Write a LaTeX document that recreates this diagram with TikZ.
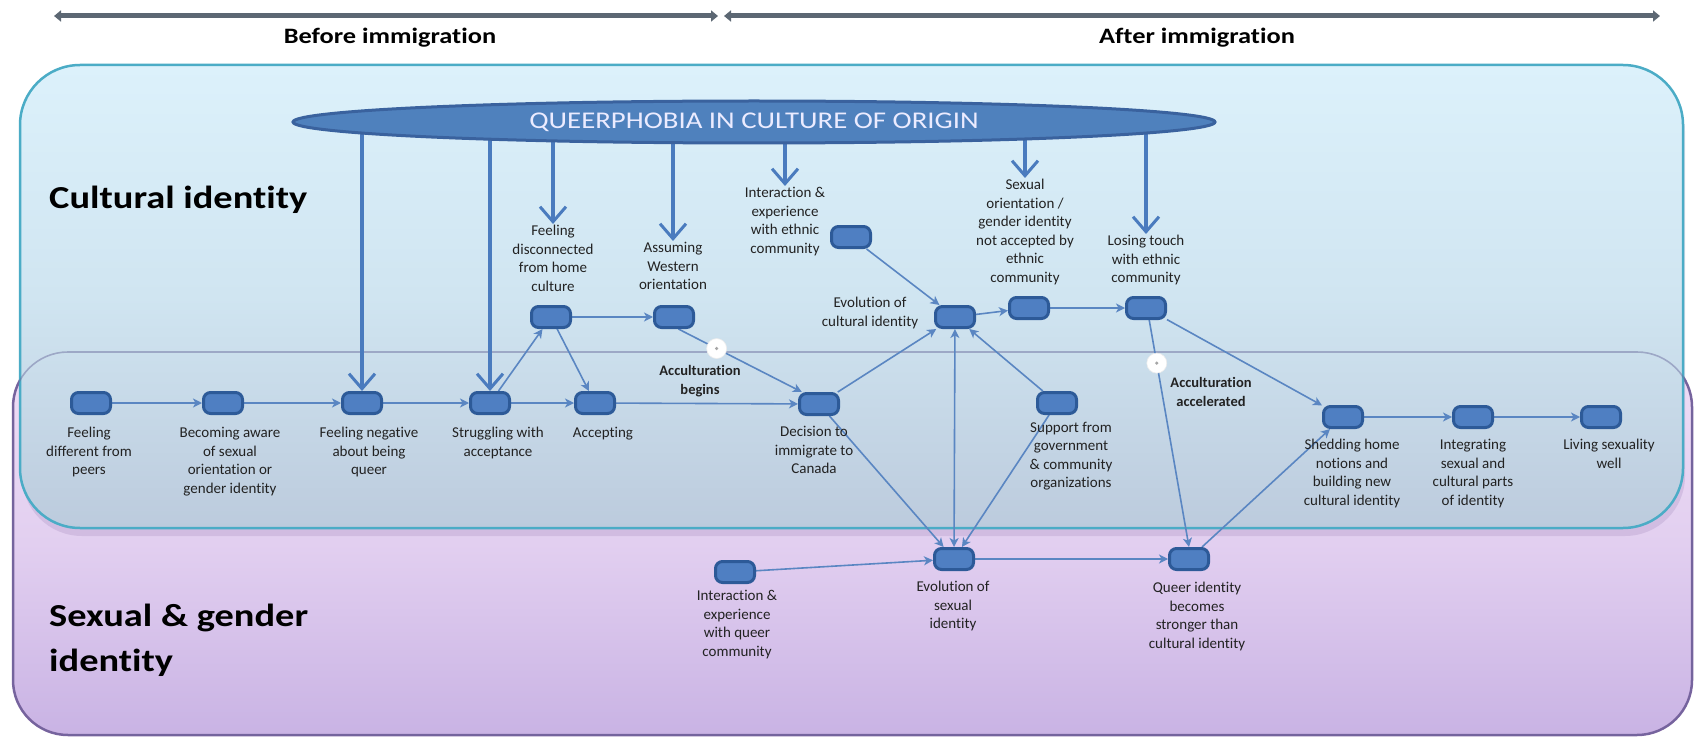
\documentclass[tikz,border=0pt]{standalone}
\usepackage{fontspec}
\setmainfont{Carlito}[Ligatures={NoCommon}]
\newfontfamily\widefont{Carlito}[FakeStretch=1.2,Ligatures={NoCommon}]
\usetikzlibrary{arrows.meta,shapes.geometric}
\pgfdeclarelayer{bg}
\pgfdeclarelayer{mid}
\pgfsetlayers{bg,mid,main}
\definecolor{nodefill}{HTML}{4F7FC2}
\definecolor{nodeedge}{HTML}{2D5A98}
\definecolor{conn}{HTML}{5A86C2}
\definecolor{pressc}{HTML}{4A7BBE}
\definecolor{cyanedge}{HTML}{4BACC6}
\definecolor{purpedge}{HTML}{8064A2}
\definecolor{timec}{HTML}{5C6773}
\definecolor{cyantop}{HTML}{DCF1FB}
\definecolor{cyanmid}{HTML}{D0E5F1}
\definecolor{cyanbot}{HTML}{BCCBDD}
\definecolor{purptop}{HTML}{F0DEF6}
\definecolor{purpmid}{HTML}{E2CFF0}
\definecolor{purpbot}{HTML}{C9B3E4}
\definecolor{ellfill}{HTML}{4F81BD}
\definecolor{elledge}{HTML}{3A629E}
\definecolor{txt}{HTML}{222222}
\begin{document}
\begin{tikzpicture}[x=1pt,y=-1pt,
  stepbox/.style={rectangle, rounded corners=7pt, fill=nodefill, draw=nodeedge,
    line width=3pt, minimum width=39pt, minimum height=21pt, inner sep=0pt},
  lbl/.style={font=\fontsize{15}{18.5}\selectfont, align=center, inner sep=1pt, text=txt, anchor=north},
  flow/.style={draw=conn, line width=1.6pt, -{Stealth[length=9pt,width=9pt,inset=2.5pt]}},
  biflow/.style={draw=conn, line width=1.6pt, {Stealth[length=9pt,width=9pt,inset=2.5pt]}-{Stealth[length=9pt,width=9pt,inset=2.5pt]}},
  press/.style={draw=pressc, line width=3.5pt, -{Straight Barb[length=15pt,width=26pt,line width=3pt]}},
  accnode/.style={circle, fill=white, draw=white!85!gray, line width=0.6pt, minimum size=20pt, inner sep=0pt,
    path picture={\fill[gray!70] (path picture bounding box.center) circle[radius=1.8pt];}},
  acclbl/.style={font=\bfseries\fontsize{14.5}{19}\selectfont, align=center, inner sep=0pt, text=txt},
  timeline/.style={draw=timec, line width=5pt, {Triangle[length=7pt,width=11pt]}-{Triangle[length=7pt,width=11pt]}},
  headtxt/.style={font=\widefont\bfseries\fontsize{22}{22}\selectfont, inner sep=0pt, text=black},
  sectxt/.style={font=\widefont\bfseries\fontsize{32}{45}\selectfont, align=left, inner sep=0pt, text=black, anchor=west}
]
\useasboundingbox (0,0) rectangle (1699,738);

% ---------- background boxes ----------
\begin{pgfonlayer}{bg}
\fill[white] (0,0) rectangle (1699,738);
\path[draw=purpedge, line width=2.5pt, top color=purptop, bottom color=purpbot, middle color=purpmid,
      rounded corners=55pt] (13,352) rectangle (1692,735);
\fill[purpedge, opacity=0.18, rounded corners=60pt] (22,72) rectangle (1685,536);
\path[draw=cyanedge, line width=2.5pt, top color=cyantop, bottom color=cyanbot, middle color=cyanmid,
      rounded corners=60pt] (20,65) rectangle (1683,528);
\draw[draw=gray!80!blue, draw opacity=0.45, line width=1.6pt, rounded corners=55pt] (13,352) rectangle (1692,735);
\end{pgfonlayer}

% ---------- timeline ----------
\coordinate (tl1) at (54,16);
\coordinate (tl2) at (718,16);
\coordinate (tr1) at (724,16);
\coordinate (tr2) at (1660,16);
\draw[timeline] (tl1) -- (tl2);
\draw[timeline] (tr1) -- (tr2);
\node[headtxt] (hb) at (390,38) {Before immigration};
\node[headtxt] (ha) at (1197,38) {After immigration};

% ---------- section titles ----------
\node[sectxt] (cult) at (49,200) {Cultural identity};
\node[sectxt] (sexg) at (49,640) {Sexual \& gender\\identity};

% ---------- ellipse ----------
\node[ellipse, fill=ellfill, draw=elledge, line width=3pt, minimum width=922pt, minimum height=42pt,
      inner sep=0pt, text=white!92!blue, font=\widefont\fontsize{24}{24}\selectfont] (q) at (754,122)
      {\raisebox{-2pt}{QUEERPHOBIA IN CULTURE OF ORIGIN}};

% ---------- step nodes ----------
\node[stepbox] (n1) at (91,403) {};
\node[stepbox] (n2) at (223,403) {};
\node[stepbox] (n3) at (362,403) {};
\node[stepbox] (n4) at (490,403) {};
\node[stepbox] (n5) at (595,403) {};
\node[stepbox] (n6) at (551,317) {};
\node[stepbox] (n7) at (674,317) {};
\node[stepbox] (n8) at (819,404) {};
\node[stepbox] (n9) at (851,237) {};
\node[stepbox] (n10) at (955,317) {};
\node[stepbox] (n11) at (1029,308) {};
\node[stepbox] (n12) at (1146,308) {};
\node[stepbox] (n13) at (1057,403) {};
\node[stepbox] (n14) at (1343,417) {};
\node[stepbox] (n15) at (1473,417) {};
\node[stepbox] (n16) at (1601,417) {};
\node[stepbox] (n17) at (735,572) {};
\node[stepbox] (n18) at (954,559) {};
\node[stepbox] (n19) at (1189,559) {};

% ---------- labels ----------
\node[lbl] (l1) at (89,426) {Feeling\\different from\\peers};
\node[lbl] (l2) at (230,426) {Becoming aware\\of sexual\\orientation or\\gender identity};
\node[lbl] (l3) at (369,426) {Feeling negative\\about being\\queer};
\node[lbl] (l4) at (498,426) {Struggling with\\acceptance};
\node[lbl] (l5) at (603,426) {Accepting};
\node[lbl] (l6) at (553,224) {Feeling\\disconnected\\from home\\culture};
\node[lbl] (l7) at (673,241) {Assuming\\Western\\orientation};
\node[lbl] (l8) at (814,425) {Decision to\\immigrate to\\Canada};
\node[lbl] (l9) at (785,186) {Interaction \&\\experience\\with ethnic\\community};
\node[lbl] (l10) at (870,296) {Evolution of\\cultural identity};
\node[lbl] (l11) at (1025,178) {Sexual\\orientation /\\gender identity\\not accepted by\\ethnic\\community};
\node[lbl] (l12) at (1146,234) {Losing touch\\with ethnic\\community};
\node[lbl] (l13) at (1071,421) {Support from\\government\\\& community\\organizations};
\node[lbl] (l14) at (1352,438) {Shedding home\\notions and\\building new\\cultural identity};
\node[lbl] (l15) at (1473,438) {Integrating\\sexual and\\cultural parts\\of identity};
\node[lbl] (l16) at (1609,438) {Living sexuality\\well};
\node[lbl] (l17) at (737,589) {Interaction \&\\experience\\with queer\\community};
\node[lbl] (l18) at (953,580) {Evolution of\\sexual\\identity};
\node[lbl] (l19) at (1197,581) {Queer identity\\becomes\\stronger than\\cultural identity};

\node[acclbl] (acc1) at (700,381) {Acculturation\\begins};
\node[acclbl] (acc2) at (1211,392) {Acculturation\\accelerated};

% ---------- connectors ----------
\begin{pgfonlayer}{mid}
% from the ellipse
\draw[press] (q.center -| n3.north) -- (n3.north);
\draw[press] (q.center -| n4.north) -- (n4.north);
\draw[press] (q.center -| l6.north) -- (l6.north);
\draw[press] (q.center -| l7.north) -- (l7.north);
\draw[press] (q.center -| l9.north) -- (l9.north);
\draw[press] (q.center -| l11.north) -- (l11.north);
\draw[press] (q.center -| l12.north) -- (l12.north);
% flows
\draw[flow] (n1) -- (n2);
\draw[flow] (n2) -- (n3);
\draw[flow] (n3) -- (n4);
\draw[flow] (n4) -- (n5);
\draw[flow] (n4) -- (n6);
\draw[flow] (n6) -- (n5);
\draw[flow] (n6) -- (n7);
\draw[flow] (n7.-70) -- node[accnode, pos=0.31] (c1) {} (n8.145);
\draw[flow] (n5) -- (n8);
\draw[flow] (n8) -- (n10);
\draw[flow] (n8) -- (n18);
\draw[flow] (n9) -- (n10);
\draw[biflow] (n10) -- (n18);
\draw[flow] (n13) -- (n10);
\draw[flow] (n13) -- (n18);
\draw[flow] (n10) -- (n11);
\draw[flow] (n11) -- (n12);
\draw[flow] (n12) -- (n14);
\draw[flow] (n12.-75) -- node[accnode, pos=0.19] (c2) {} (n19.north);
\draw[flow] (n17) -- (n18);
\draw[flow] (n18) -- (n19);
\draw[flow] (n19) -- (n14);
\draw[flow] (n14) -- (n15);
\draw[flow] (n15) -- (n16);
\end{pgfonlayer}
\end{tikzpicture}
\end{document}
